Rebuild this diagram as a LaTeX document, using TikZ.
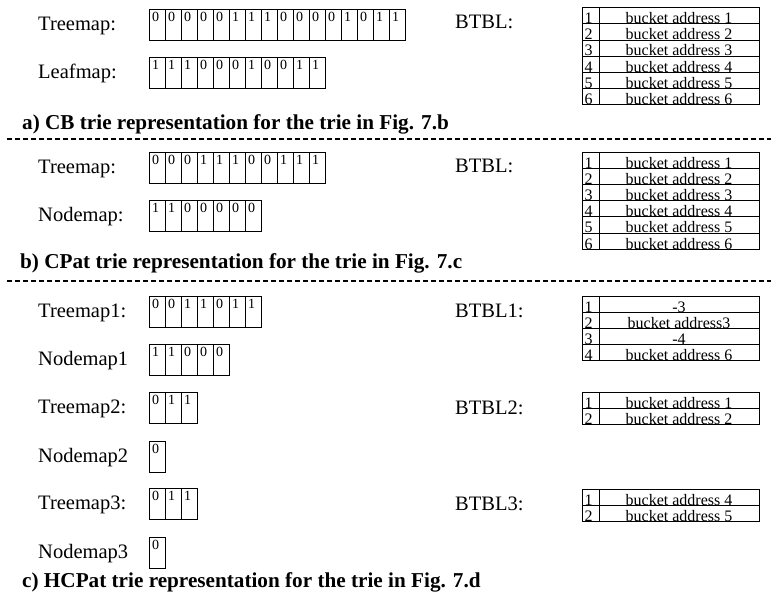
\documentclass[tikz,border=0pt]{standalone}
\usepackage{fontspec}
\setmainfont{Liberation Serif}
\begin{document}
\begin{tikzpicture}[x=1pt,y=-1pt,
  cell/.style={draw,line width=0.8pt,rectangle,minimum width=16pt,minimum height=31.5pt,anchor=north west,inner sep=0pt,outer sep=0pt},
  digit/.style={anchor=north west,inner sep=0pt,font=\fontsize{14}{14}\selectfont},
  lbl/.style={anchor=base west,inner sep=0pt,font=\fontsize{20.5}{24}\selectfont},
  ttl/.style={anchor=base west,inner sep=0pt,font=\fontsize{21.2}{24}\selectfont\bfseries},
  rowbox/.style={draw,line width=0.8pt,rectangle,anchor=north west,inner sep=0pt,outer sep=0pt,minimum height=16.2pt},
  numtxt/.style={anchor=base west,inner sep=0pt,font=\fontsize{16}{16}\selectfont},
  enttxt/.style={anchor=base,inner sep=0pt,font=\fontsize{16}{16}\selectfont},
  sep/.style={line width=1.3pt,dash pattern=on 5pt off 3pt}
]
\useasboundingbox (0,0) rectangle (771,597);

\newcommand\bitrow[4]{%
  \foreach \d [count=\i from 0] in {#4}{%
    \node[cell] (#1-\i) at ({#2+16*\i},#3) {};
    \node[digit] (#1-d\i) at ([xshift=3pt,yshift=-3pt]#1-\i.north west) {\d};
  }}
\newcommand\btbl[3]{%
  \foreach \e [count=\i from 0] in {#3}{%
    \node[rowbox,minimum width=16.5pt] (#1-n\i) at (582.5,{#2+16.2*\i}) {};
    \node[rowbox,minimum width=160pt] (#1-e\i) at (599,{#2+16.2*\i}) {};
    \node[numtxt] (#1-nt\i) at ([xshift=1.8pt,yshift=0.2pt]#1-n\i.south west) {\the\numexpr\i+1\relax};
    \node[enttxt] (#1-et\i) at ([yshift=0.2pt]#1-e\i.south) {\e};
  }}

% ---------- a ----------
\node[lbl] (la1) at (38,30) {Treemap:};
\bitrow{ta}{149}{9}{0,0,0,0,0,1,1,1,0,0,0,0,1,0,1,1}
\node[lbl] (la2) at (38,78) {Leafmap:};
\bitrow{la}{149}{57}{1,1,1,0,0,0,1,0,0,1,1}
\node[lbl] (lba) at (455,28) {BTBL:};
\btbl{ba}{7.5}{bucket address 1,bucket address 2,bucket address 3,bucket address 4,bucket address 5,bucket address 6}
\node[ttl] (tta) at (22,129) {a) CB trie representation for the trie in Fig. 7.b};
\coordinate (da1) at (7,139);
\coordinate (da2) at (771,139);
\draw[sep] (da1) -- (da2);

% ---------- b ----------
\node[lbl] (lb1) at (38,173) {Treemap:};
\bitrow{tb}{149}{152}{0,0,0,1,1,1,0,0,1,1,1}
\node[lbl] (lb2) at (38,221) {Nodemap:};
\bitrow{nb}{149}{200}{1,1,0,0,0,0,0}
\node[lbl] (lbb) at (455,172) {BTBL:};
\btbl{bb}{152}{bucket address 1,bucket address 2,bucket address 3,bucket address 4,bucket address 5,bucket address 6}
\node[ttl] (ttb) at (20,268) {b) CPat trie representation for the trie in Fig. 7.c};
\coordinate (db1) at (7,281);
\coordinate (db2) at (771,281);
\draw[sep] (db1) -- (db2);

% ---------- c ----------
\node[lbl] (lc1) at (38,317) {Treemap1:};
\bitrow{tc1}{149}{296}{0,0,1,1,0,1,1}
\node[lbl] (lc2) at (38,365) {Nodemap1};
\bitrow{nc1}{149}{344}{1,1,0,0,0}
\node[lbl] (lc3) at (38,413) {Treemap2:};
\bitrow{tc2}{149}{392}{0,1,1}
\node[lbl] (lc4) at (38,462) {Nodemap2};
\bitrow{nc2}{149}{441}{0}
\node[lbl] (lc5) at (38,509) {Treemap3:};
\bitrow{tc3}{149}{488}{0,1,1}
\node[lbl] (lc6) at (38,558) {Nodemap3};
\bitrow{nc3}{149}{537}{0}

\node[lbl] (lbc1) at (455,317) {BTBL1:};
\btbl{bc1}{296}{-3,bucket address3,-4,bucket address 6}
\node[lbl] (lbc2) at (455,414) {BTBL2:};
\btbl{bc2}{392}{bucket address 1,bucket address 2}
\node[lbl] (lbc3) at (455,510) {BTBL3:};
\btbl{bc3}{489}{bucket address 4,bucket address 5}

\node[ttl] (ttc) at (22,587) {c) HCPat trie representation for the trie in Fig. 7.d};
\end{tikzpicture}
\end{document}
